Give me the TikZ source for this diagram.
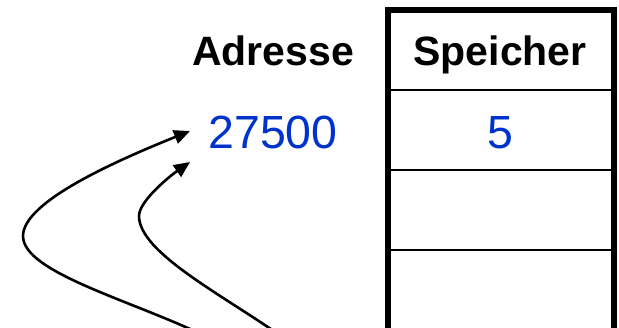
\documentclass[tikz,border=0pt]{standalone}
\usepackage{fontspec}
\setmainfont{Liberation Sans}
\usetikzlibrary{arrows.meta}
\definecolor{numblue}{RGB}{0,51,204}
\begin{document}
\begin{tikzpicture}[x=1pt,y=-1pt,
  head/.style={font=\fontsize{41}{45}\selectfont\bfseries, inner sep=0pt, anchor=base},
  val/.style={font=\fontsize{46.5}{50}\selectfont, text=numblue, inner sep=0pt, anchor=base},
  frame/.style={line width=6pt},
  rowline/.style={line width=2pt},
  ptr/.style={line width=2.6pt, -{Triangle[length=16pt,width=14pt]}}]
\useasboundingbox (0,0) rectangle (619,327);
\begin{scope}
\clip (0,0) rectangle (619,327);
% table
\draw[frame] (387.5,340) -- (387.5,10) -- (614,10) -- (614,340);
\draw[rowline] (387.5,90) -- (614,90);
\draw[rowline] (387.5,170) -- (614,170);
\draw[rowline] (387.5,250) -- (614,250);
% texts
\node[head] (adr) at (273,65) {Adresse};
\node[head] (spe) at (500,65) {Speicher};
\node[val] (num) at (273,148) {27500};
\node[val] (five) at (500,148) {5};
% pointers
\coordinate (s1) at (205,336);
\coordinate (m1) at (23,236);
\coordinate (t1) at (190,131);
\coordinate (s2) at (281,336);
\coordinate (m2) at (139,216);
\coordinate (t2) at (190,162);
\draw[ptr] (s1) to[out=154,in=-90,out looseness=1,in looseness=0.45] (m1)
  to[out=90,in=202,out looseness=0.45,in looseness=1] (t1);
\draw[ptr] (s2) to[out=145,in=-90,out looseness=1,in looseness=0.5] (m2)
  to[out=90,in=215,out looseness=0.5,in looseness=0.9] (t2);
\end{scope}
\end{tikzpicture}
\end{document}
